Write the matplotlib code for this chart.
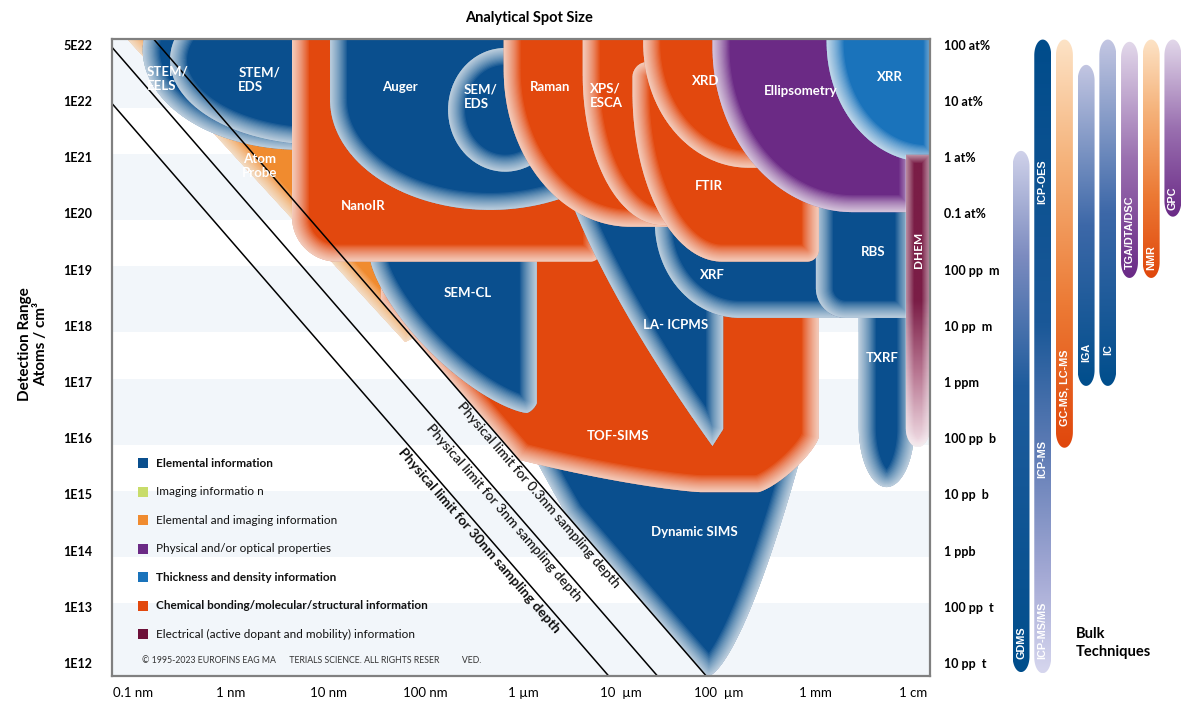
import numpy as np
import matplotlib
matplotlib.use("Agg")
import matplotlib.pyplot as plt
from matplotlib.patches import Polygon, Rectangle
from matplotlib.colors import LinearSegmentedColormap

plt.rcParams.update({"font.family": ["Lato", "DejaVu Sans"], "font.size": 9})

DPI = 100

# ---------------------------------------------------------------------------
# Axis labels
# ---------------------------------------------------------------------------
spot_ticks = ["0.1 nm", "1 nm", "10 nm", "100 nm", "1 \u00b5m", "10  \u00b5m",
              "100  \u00b5m", "1 mm", "1 cm"]
conc_ticks = ["1E12", "1E13", "1E14", "1E15", "1E16", "1E17", "1E18", "1E19",
              "1E20", "1E21", "1E22", "5E22"]
right_ticks = ["10 pp  t", "100 pp  t", "1 ppb", "10 pp  b", "100 pp  b", "1 ppm",
               "10 pp  m", "100 pp  m", "0.1 at%", "1 at%", "10 at%", "100 at%"]

# ---------------------------------------------------------------------------
# Categories (legend)
# ---------------------------------------------------------------------------
cat_labels = ["Elemental information", "Imaging informatio n",
              "Elemental and imaging information", "Physical and/or optical properties",
              "Thickness and density information",
              "Chemical bonding/molecular/structural information",
              "Electrical (active dopant and mobility) information"]
cat_bold = [True, False, False, False, True, True, False]
cat_colors = ["#0a4f8e", "#c8dc6a", "#f08b2f", "#6b2a85", "#1a73bb", "#e2480e", "#6d1039"]

# ---------------------------------------------------------------------------
# Techniques: log10 spot size (nm) and log10 detection range (atoms/cm3)
# listed in drawing order (back to front)
# ---------------------------------------------------------------------------
tech_names = ["Atom Probe", "STEM/EELS", "STEM/EDS", "Dynamic SIMS", "TOF-SIMS", "TXRF",
              "SEM-CL", "NanoIR", "LA-ICPMS", "XRF", "RBS", "Auger", "SEM/EDS", "Raman",
              "XPS/ESCA", "FTIR", "XRD", "Ellipsometry", "XRR", "DHEM"]
tech_labels = ["Atom\nProbe", "STEM/\nEELS", "STEM/\nEDS", "Dynamic SIMS", "TOF-SIMS", "TXRF",
               "SEM-CL", "NanoIR", "LA- ICPMS", "XRF", "RBS", "Auger", "SEM/\nEDS", "Raman",
               "XPS/\nESCA", "FTIR", "XRD", "Ellipsometry", "XRR", "DHEM"]
tech_cat = [2, 0, 0, 0, 5, 0, 0, 5, 0, 0, 0, 0, 0, 5, 5, 5, 5, 3, 4, 6]
spot_lo = [-1.24, -0.90, -0.62, 2.97, 1.54, 6.44, 1.43, 0.63, 3.26, 4.35, 6.00, 1.02,
           2.23, 2.80, 3.61, 4.12, 4.23, 4.94, 6.11, 6.92]
spot_hi = [2.15, 2.32, 2.46, 5.92, 6.03, 7.01, 3.14, 3.79, 5.05, 6.99, 6.99, 4.30,
           3.40, 4.82, 4.82, 6.03, 5.84, 7.03, 7.28, 7.17]
conc_lo = [17.71, 21.13, 21.22, 11.77, 15.04, 15.13, 16.45, 19.14, 15.86, 18.14, 18.14,
           20.06, 20.74, 19.76, 19.79, 19.14, 20.81, 20.02, 20.91, 15.84]
conc_hi = [23.44, 24.69, 24.24, 16.15, 19.70, 18.46, 20.24, 23.97, 21.66, 21.66, 20.59,
           23.97, 22.94, 23.97, 23.97, 22.69, 23.97, 23.97, 23.97, 21.04]
tip_spot = {"Atom Probe": 1.79, "LA-ICPMS": 4.94, "Dynamic SIMS": 4.90}
label_spot = [0.30, -0.86, 0.08, 4.75, 3.97, 6.68, 2.43, 1.36, 4.56, 4.94, 6.59, 1.74,
              2.39, 3.28, 3.68, 4.90, 4.87, 5.84, 6.76, 7.05]
label_conc = [20.84, 22.39, 22.37, 14.33, 16.04, 17.43, 18.58, 20.13, 18.01, 18.90, 19.31,
              22.25, 22.07, 22.25, 22.09, 20.49, 22.36, 22.18, 22.43, 19.35]

# sampling-depth limit lines (1 atom in spot^2 x depth)
depth_nm = [0.3, 3, 30]
depth_labels = ["Physical limit for 0.3nm sampling depth",
                "Physical limit for 3nm sampling depth",
                "Physical limit for 30nm sampling depth"]
depth_label_spot = [3.22, 2.87, 2.62]

# bulk techniques (detection range only)
bulk_lo = [11.84, 11.82, 15.83, 16.93, 16.93, 18.85, 18.85, 19.94]
bulk_hi = [21.11, 23.09, 23.09, 22.64, 23.09, 23.05, 23.09, 23.09]
bulk_text = [(0, "GDMS", 12.36), (1, "ICP-OES", 20.56), (1, "ICP-MS", 15.63),
             (1, "ICP-MS/MS", 12.59), (2, "GC-MS, LC-MS", 16.89), (3, "IGA", 17.53),
             (4, "IC", 17.57), (5, "TGA/DTA/DSC", 19.67), (6, "NMR", 19.22),
             (7, "GPC", 20.27)]

# ---------------------------------------------------------------------------
# Shape styling (outline rounding in decades, per technique)
# ---------------------------------------------------------------------------
SHAPE = {
    "Atom Probe": dict(kind="wedge", q=1.0),
    "STEM/EELS": dict(kind="ellipse"),
    "STEM/EDS": dict(kind="ellipse"),
    "Dynamic SIMS": dict(kind="cup", p=1.5, clip=True),
    "TOF-SIMS": dict(kind="box", bl=(3.28, 1.46), br=(0.62, 0.98), n=1.3, clip=True),
    "TXRF": dict(kind="box", bl=(0.287, 1.07), br=(0.287, 1.07)),
    "SEM-CL": dict(kind="box", bl=(1.60, 2.75), br=(0.10, 0.18), n=1.4),
    "NanoIR": dict(kind="box", bl=(0.46, 0.80), br=(0.10, 0.18)),
    "LA-ICPMS": dict(kind="wedge", q=0.7),
    "XRF": dict(kind="box", bl=(0.87, 1.69)),
    "RBS": dict(kind="box", bl=(0.31, 0.53)),
    "Auger": dict(kind="box", bl=(1.64, 1.96), br=(1.64, 1.96)),
    "SEM/EDS": dict(kind="ellipse"),
    "Raman": dict(kind="box", bl=(1.30, 2.79)),
    "XPS/ESCA": dict(kind="box", bl=(0.82, 2.67)),
    "FTIR": dict(kind="box", bl=(0.92, 3.02), tl=(0.15, 0.27), br=(0.12, 0.21)),
    "XRD": dict(kind="box", bl=(1.08, 2.22)),
    "Ellipsometry": dict(kind="box", bl=(1.44, 2.94)),
    "XRR": dict(kind="box", bl=(1.03, 2.14)),
    "DHEM": dict(kind="box", bl=(0.125, 0.36), br=(0.125, 0.36), gradient=True),
}
LEFT_LABELS = {"STEM/EELS", "STEM/EDS", "SEM/EDS", "XPS/ESCA"}

BULK_STOPS = [
    [(0, "#004e8c"), (0.55, "#1f5c9d"), (0.8, "#7d8cc0"), (1, "#d0d2ea")],
    [(0, "#d6d6ee"), (0.15, "#a5aad5"), (0.35, "#5f7cb5"), (0.55, "#1a5898"), (1, "#004c8b")],
    [(0, "#e0470c"), (0.35, "#ec7a35"), (0.7, "#f5b27a"), (1, "#fde3c6")],
    [(0, "#004e8c"), (0.5, "#3d68a8"), (1, "#c3c6e2")],
    [(0, "#004e8c"), (0.5, "#3d68a8"), (1, "#c3c6e2")],
    [(0, "#6a2a86"), (0.5, "#9a70b0"), (1, "#e2d8ea")],
    [(0, "#e0470c"), (0.35, "#ec7a35"), (0.7, "#f5b27a"), (1, "#fde3c6")],
    [(0, "#6a2a86"), (0.5, "#9a70b0"), (1, "#e2d8ea")],
]
DHEM_STOPS = [(0, "#f2e0e7"), (0.25, "#b97893"), (0.5, "#7a1d46"), (1, "#7a1d46")]


# ---------------------------------------------------------------------------
# Geometry helpers
# ---------------------------------------------------------------------------
def limit_line(x, depth):
    # decades above 1E12 for 1 atom in (spot^2 x depth); x = decades above 0.1 nm
    return 11.0 - 2.0 * x - np.log10(depth)


def rounded_box(x0, x1, y0, y1, bl=(0, 0), br=(0, 0), tr=(0, 0), tl=(0, 0), n=2.0, steps=50):
    def arc(cx, cy, rx, ry, t0, t1):
        t = np.linspace(t0, t1, steps)
        c, s = np.cos(t), np.sin(t)
        return np.column_stack([cx + rx * np.sign(c) * np.abs(c) ** (2 / n),
                                cy + ry * np.sign(s) * np.abs(s) ** (2 / n)])
    pts = [arc(x0 + bl[0], y0 + bl[1], bl[0], bl[1], np.pi, 1.5 * np.pi),
           arc(x1 - br[0], y0 + br[1], br[0], br[1], 1.5 * np.pi, 2 * np.pi),
           arc(x1 - tr[0], y1 - tr[1], tr[0], tr[1], 0, 0.5 * np.pi),
           arc(x0 + tl[0], y1 - tl[1], tl[0], tl[1], 0.5 * np.pi, np.pi)]
    return np.vstack(pts)


def wedge(x0, xt, x1, y0, y1, q, steps=60):
    s = np.linspace(0, 1, steps)
    left = np.column_stack([x0 + (xt - x0) * s, y1 - (y1 - y0) * s ** q])
    right = np.array([[x1, y0 + 0.3], [x1, y1]])
    return np.vstack([left, right])


def cup(x0, xt, x1, y0, y1, p, steps=60):
    u = np.linspace(1, 0, steps)
    left = np.column_stack([xt - (xt - x0) * u, y0 + (y1 - y0) * u ** p])
    right = np.column_stack([xt + (x1 - xt) * u[::-1], y0 + (y1 - y0) * u[::-1] ** p])
    return np.vstack([left, right])


def clip_above_line(verts, depth):
    out = []
    f = lambda pt: pt[1] - limit_line(pt[0], depth)
    for i in range(len(verts)):
        p, q = verts[i], verts[(i + 1) % len(verts)]
        fp, fq = f(p), f(q)
        if fp >= 0:
            out.append(p)
        if (fp >= 0) != (fq >= 0):
            t = fp / (fp - fq)
            out.append(p + t * (q - p))
    return np.array(out)


def add_glow(ax, verts, z, depth_px=17, n=18):
    body = Polygon(verts, closed=True, facecolor="none", edgecolor="none", zorder=z)
    ax.add_patch(body)
    for k in range(n, 0, -1):
        ring = Polygon(verts, closed=True, facecolor="none", edgecolor="white",
                       linewidth=2 * depth_px * (k / n) ** 1.3 * 72 / DPI, alpha=0.075,
                       joinstyle="round", zorder=z + 0.01 + 0.001 * (n - k))
        ax.add_patch(ring)
        ring.set_clip_path(body)
        ring.set_clip_box(ax.bbox)


def gradient_fill(ax, verts, stops, z):
    body = Polygon(verts, closed=True, facecolor="none", edgecolor="none", zorder=z)
    ax.add_patch(body)
    cmap = LinearSegmentedColormap.from_list("g", stops)
    grad = np.linspace(0, 1, 256).reshape(-1, 1)
    im = ax.imshow(grad, cmap=cmap, origin="lower", aspect="auto", zorder=z,
                   extent=(verts[:, 0].min(), verts[:, 0].max(),
                           verts[:, 1].min(), verts[:, 1].max()),
                   interpolation="bilinear")
    im.set_clip_path(body)


# ---------------------------------------------------------------------------
# Figure
# ---------------------------------------------------------------------------
fig = plt.figure(figsize=(12, 7.15), dpi=DPI)
ax = fig.add_axes([112 / 1200, 39 / 715, 818 / 1200, 637 / 715])
XLIM, YLIM = (-0.215, 8.17), (-0.23, 11.1)

for k in range(6):
    ax.axhspan(2 * k - 0.3 if k == 0 else 2 * k - 0.12, 2 * k + 1.06 if k < 5 else 11.5,
               color="#f2f6fa", lw=0, zorder=0)

for i, name in enumerate(tech_names):
    st = SHAPE[name]
    x0, x1 = spot_lo[i] + 1, spot_hi[i] + 1
    y0, y1 = conc_lo[i] - 12, conc_hi[i] - 12
    if st["kind"] == "ellipse":
        r = ((x1 - x0) / 2, (y1 - y0) / 2)
        verts = rounded_box(x0, x1, y0, y1, r, r, r, r)
    elif st["kind"] == "box":
        verts = rounded_box(x0, x1, y0, y1, st.get("bl", (0, 0)), st.get("br", (0, 0)),
                            st.get("tr", (0, 0)), st.get("tl", (0, 0)), n=st.get("n", 2.0))
    elif st["kind"] == "wedge":
        verts = wedge(x0, tip_spot[name] + 1, x1, y0, y1, st["q"])
    else:
        verts = cup(x0, tip_spot[name] + 1, x1, y0, y1, st["p"])
    if st.get("clip"):
        verts = clip_above_line(verts, depth_nm[0])
    z = 1 + i
    if st.get("gradient"):
        gradient_fill(ax, verts, DHEM_STOPS, z)
        add_glow(ax, verts, z, depth_px=8, n=10)
    else:
        ax.add_patch(Polygon(verts, closed=True, facecolor=cat_colors[tech_cat[i]],
                             edgecolor="none", zorder=z))
        add_glow(ax, verts, z)

    left = name in LEFT_LABELS
    ax.text(label_spot[i] + 1, label_conc[i] - 12, tech_labels[i], color="white",
            fontsize=8.5 if name == "DHEM" else 9.5, fontweight="bold",
            ha="left" if left else "center", va="center",
            rotation=90 if name == "DHEM" else 0, linespacing=1.25, zorder=50)

# sampling-depth lines
xs = np.linspace(-0.5, 8.5, 10)
ax.set_xlim(*XLIM)
ax.set_ylim(*YLIM)
p_a = ax.transData.transform((0, limit_line(0, 1)))
p_b = ax.transData.transform((1, limit_line(1, 1)))
ang = np.degrees(np.arctan2(p_b[1] - p_a[1], p_b[0] - p_a[0]))
nx, ny = np.sin(np.radians(ang)), -np.cos(np.radians(ang))
for d, lab, ls in zip(depth_nm, depth_labels, depth_label_spot):
    ax.plot(xs, limit_line(xs, d), color="black", lw=1.1, zorder=40)
    xa = ls + 1
    ax.annotate(lab, xy=(xa, limit_line(xa, d)), xytext=(2 * nx, 2 * ny),
                textcoords="offset points", rotation=ang, rotation_mode="anchor",
                ha="center", va="top", fontsize=10, color="#111111",
                fontweight="bold" if d == 30 else "medium", zorder=41)

# legend
for j, (lab, b, c) in enumerate(zip(cat_labels, cat_bold, cat_colors)):
    yc = 0.334 - 0.0447 * j
    ax.add_patch(Rectangle((0.0318, yc - 0.0078), 0.0122, 0.0157, transform=ax.transAxes,
                           facecolor=c, edgecolor="none", zorder=45))
    ax.text(0.0538, yc, lab, transform=ax.transAxes, fontsize=8.5, va="center",
            fontweight="bold" if b else "normal", color="#111111", zorder=45)
ax.text(0.0367, 0.024, "\u00a9 1995-2023 EUROFINS EAG MA      TERIALS SCIENCE. ALL RIGHTS RESER"
        "          VED.", transform=ax.transAxes, fontsize=6.3, color="#333333",
        va="center", zorder=45)

# axes and ticks
ax.set_xticks(range(len(spot_ticks)), spot_ticks)
ax.set_yticks(range(len(conc_ticks)), conc_ticks)
ax.tick_params(axis="x", length=0, pad=8, labelsize=9.5)
ax.tick_params(axis="y", length=0, pad=14, labelsize=9)
for t in ax.get_yticklabels():
    t.set_fontweight("bold")
for s in ax.spines.values():
    s.set_color("#808080")
    s.set_linewidth(1.6)
    s.set_zorder(100)

ax_r = ax.twinx()
ax_r.set_ylim(*YLIM)
ax_r.set_yticks(range(len(right_ticks)), right_ticks)
ax_r.tick_params(axis="y", length=0, pad=10, labelsize=9)
for t in ax_r.get_yticklabels():
    t.set_fontweight("bold")
for s in ax_r.spines.values():
    s.set_visible(False)
ax.set_xlim(*XLIM)
ax.set_ylim(*YLIM)

# bulk techniques
bx = fig.add_axes([1000 / 1200, 39 / 715, 200 / 1200, 637 / 715])
bx.axis("off")
for i, (lo, hi) in enumerate(zip(bulk_lo, bulk_hi)):
    r = (0.39, 0.28)
    verts = rounded_box(i - 0.39, i + 0.39, lo - 12, hi - 12, r, r, r, r)
    gradient_fill(bx, verts, BULK_STOPS[i], 2)
for i, lab, c in bulk_text:
    bx.text(i, c - 12, lab, rotation=90, ha="center", va="center", color="white",
            fontsize=7.8, fontweight="bold", family="Liberation Sans", zorder=5)
bx.set_xlim(-0.97, 8.25)
bx.set_ylim(*YLIM)

fig.text(1076 / 1200, 1 - 643 / 715, "Bulk\nTechniques", fontsize=10.5, fontweight="bold",
         ha="left", va="center", linespacing=1.3)
fig.text(529 / 1200, 1 - 18 / 715, "Analytical Spot Size", fontsize=10.5,
         fontweight="bold", ha="center", va="center")
fig.text(33 / 1200, 1 - 344 / 715, "Detection Range\nAtoms / cm\u00b3", fontsize=11,
         fontweight="bold", ha="center", va="center", rotation=90, multialignment="center")

fig.savefig("out.png", dpi=DPI)
